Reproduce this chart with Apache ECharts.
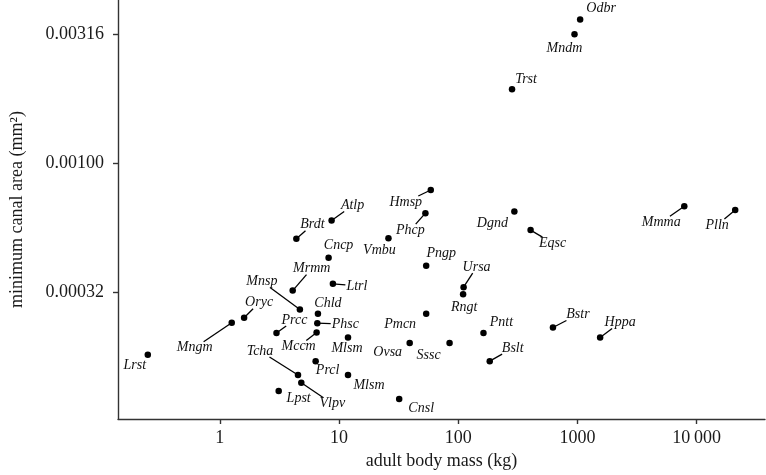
<!DOCTYPE html>
<html>
<head>
<meta charset="utf-8">
<script src="https://cdn.jsdelivr.net/npm/echarts@6/dist/echarts.min.js"></script>
<style>
  html, body { margin: 0; padding: 0; background: #fff; }
  #main { width: 766px; height: 475px; }
</style>
</head>
<body>
<div id="main"></div>
<script>
// 物种缩写
const species = ['Odbr', 'Mndm', 'Trst', 'Hmsp', 'Phcp', 'Atlp', 'Brdt', 'Vmbu', 'Cncp', 'Dgnd',
  'Pngp', 'Eqsc', 'Mmma', 'Plln', 'Mrmm', 'Ltrl', 'Mnsp', 'Ursa', 'Rngt', 'Chld',
  'Oryc', 'Mngm', 'Prcc', 'Phsc', 'Pmcn', 'Mccm', 'Mlsm', 'Ovsa', 'Sssc', 'Pntt',
  'Bstr', 'Hppa', 'Bslt', 'Tcha', 'Prcl', 'Mlsm', 'Vlpv', 'Lpst', 'Cnsl', 'Lrst']
// 成体体重 (kg)
const bodyMass = [1055, 946, 283, 58.9, 53.1, 8.67, 4.39, 26.0, 8.18, 296,
  53.9, 405, 7887, 21090, 4.09, 8.89, 4.70, 111, 110, 6.66,
  1.60, 1.26, 2.99, 6.58, 53.9, 6.49, 11.9, 39.2, 84.7, 163,
  624, 1552, 184, 4.53, 6.37, 11.9, 4.83, 3.12, 32.0, 0.249]
// 最小管道面积 (mm^2)
const canalArea = [0.00361, 0.00317, 0.00194, 0.000788, 0.000641, 0.000600, 0.000510, 0.000512, 0.000430, 0.000651,
  0.000401, 0.000551, 0.000682, 0.000660, 0.000321, 0.000341, 0.000271, 0.000331, 0.000311, 0.000261,
  0.000252, 0.000241, 0.000220, 0.000240, 0.000261, 0.000221, 0.000211, 0.000201, 0.000201, 0.000220,
  0.000231, 0.000211, 0.000171, 0.000151, 0.000171, 0.000151, 0.000141, 0.000131, 0.000122, 0.000181]

// 刻度
const xTickValues = [1, 10, 100, 1000, 10000]
const xTickLabels = ['1', '10', '100', '1000', '10\u2009000']
const yTickValues = [0.000316228, 0.001, 0.00316228]
const yTickLabels = ['0.00032', '0.00100', '0.00316']

// 标签相对点的偏移 (px)，以及哪些标签带引线
const labelOffsets = [[21, -11], [-10, 14], [14, -10], [-25, 12], [-15, 17], [21, -15], [16, -14], [-9, 12], [10, -13], [-22, 12],
  [15, -12], [22, 13], [-23, 16], [-18, 15], [19, -22], [24, 2], [-38, -28], [13, -20], [1, 13], [10, -10],
  [15, -15], [-37, 25], [18, -13], [28, 1], [-26, 11], [-18, 14], [-1, 11], [-22, 9], [-21, 12], [18, -11],
  [25, -13], [20, -15], [23, -13], [-38, -24], [12, 9], [21, 10], [31, 21], [20, 7], [22, 9], [-13, 11]]
const leaderNames = ['Hmsp', 'Phcp', 'Atlp', 'Brdt', 'Mrmm', 'Ltrl', 'Mnsp', 'Ursa', 'Oryc', 'Mngm',
  'Prcc', 'Phsc', 'Mccm', 'Tcha', 'Vlpv', 'Eqsc', 'Mmma', 'Plln', 'Bstr', 'Hppa', 'Bslt']

const serif = 'Liberation Serif'
const labelFont = 'italic 14px "Liberation Serif"'

// 测量标签宽度，用于引线终点
const measureCtx = document.createElement('canvas').getContext('2d')
measureCtx.font = labelFont
const textWidth = s => measureCtx.measureText(s).width

function tickLabel(values, labels, v) {
  const i = values.findIndex(t => Math.abs(Math.log10(t) - Math.log10(v)) < 0.01)
  return i < 0 ? '' : labels[i]
}

const leaderIdx = species.map((s, i) => i).filter(i => leaderNames.includes(species[i]))

const myChart = echarts.init(document.getElementById('main'))

const option = {
  animation: false,
  grid: { left: 118, right: 1, top: 0, bottom: 54 },
  xAxis: {
    type: 'log',
    logBase: 10,
    min: 0.14,
    max: 37500,
    name: 'adult body mass (kg)',
    nameLocation: 'middle',
    nameGap: 33,
    nameTextStyle: { fontFamily: serif, fontSize: 18, color: '#1a1a1a' },
    axisLine: { lineStyle: { color: '#333', width: 1.4 } },
    axisTick: { length: 5, lineStyle: { color: '#333', width: 1.4 }, customValues: xTickValues },
    axisLabel: {
      margin: 10,
      fontFamily: serif,
      fontSize: 18,
      color: '#1a1a1a',
      customValues: xTickValues,
      formatter: v => tickLabel(xTickValues, xTickLabels, v)
    },
    splitLine: { show: false }
  },
  yAxis: {
    type: 'log',
    logBase: Math.sqrt(10),
    min: 0.000102,
    max: 0.0043,
    name: 'minimum canal area (mm\u00b2)',
    nameLocation: 'middle',
    nameGap: 92,
    nameTextStyle: { fontFamily: serif, fontSize: 18, color: '#1a1a1a' },
    axisLine: { show: true, lineStyle: { color: '#333', width: 1.4 } },
    axisTick: { show: true, length: 5, lineStyle: { color: '#333', width: 1.4 }, customValues: yTickValues },
    axisLabel: {
      margin: 14,
      fontFamily: serif,
      fontSize: 18,
      color: '#1a1a1a',
      customValues: yTickValues,
      formatter: v => tickLabel(yTickValues, yTickLabels, v)
    },
    splitLine: { show: false }
  },
  series: [
    {
      // 引线：从点指向标签边缘
      type: 'custom',
      silent: true,
      data: leaderIdx.map(i => [bodyMass[i], canalArea[i], i]),
      renderItem: (params, api) => {
        const i = api.value(2)
        const p = api.coord([api.value(0), api.value(1)])
        const [dx, dy] = labelOffsets[i]
        const hw = textWidth(species[i]) / 2 + 1
        const hh = 6
        const s = Math.min(dx ? hw / Math.abs(dx) : Infinity, dy ? hh / Math.abs(dy) : Infinity)
        if (s >= 1) return null
        return {
          type: 'line',
          shape: { x1: p[0], y1: p[1], x2: p[0] + dx * (1 - s), y2: p[1] + dy * (1 - s) },
          style: { stroke: '#000', lineWidth: 1.3 }
        }
      }
    },
    {
      type: 'scatter',
      symbolSize: 6.5,
      itemStyle: { color: '#000', opacity: 1 },
      label: {
        show: true,
        position: 'inside',
        formatter: p => p.name,
        fontFamily: serif,
        fontStyle: 'italic',
        fontSize: 14,
        color: '#111',
        textBorderWidth: 0
      },
      labelLayout: p => ({ dx: labelOffsets[p.dataIndex][0], dy: labelOffsets[p.dataIndex][1] }),
      data: species.map((name, i) => ({
        name: name,
        value: [bodyMass[i], canalArea[i]]
      }))
    }
  ]
}

myChart.setOption(option)
</script>
</body>
</html>
